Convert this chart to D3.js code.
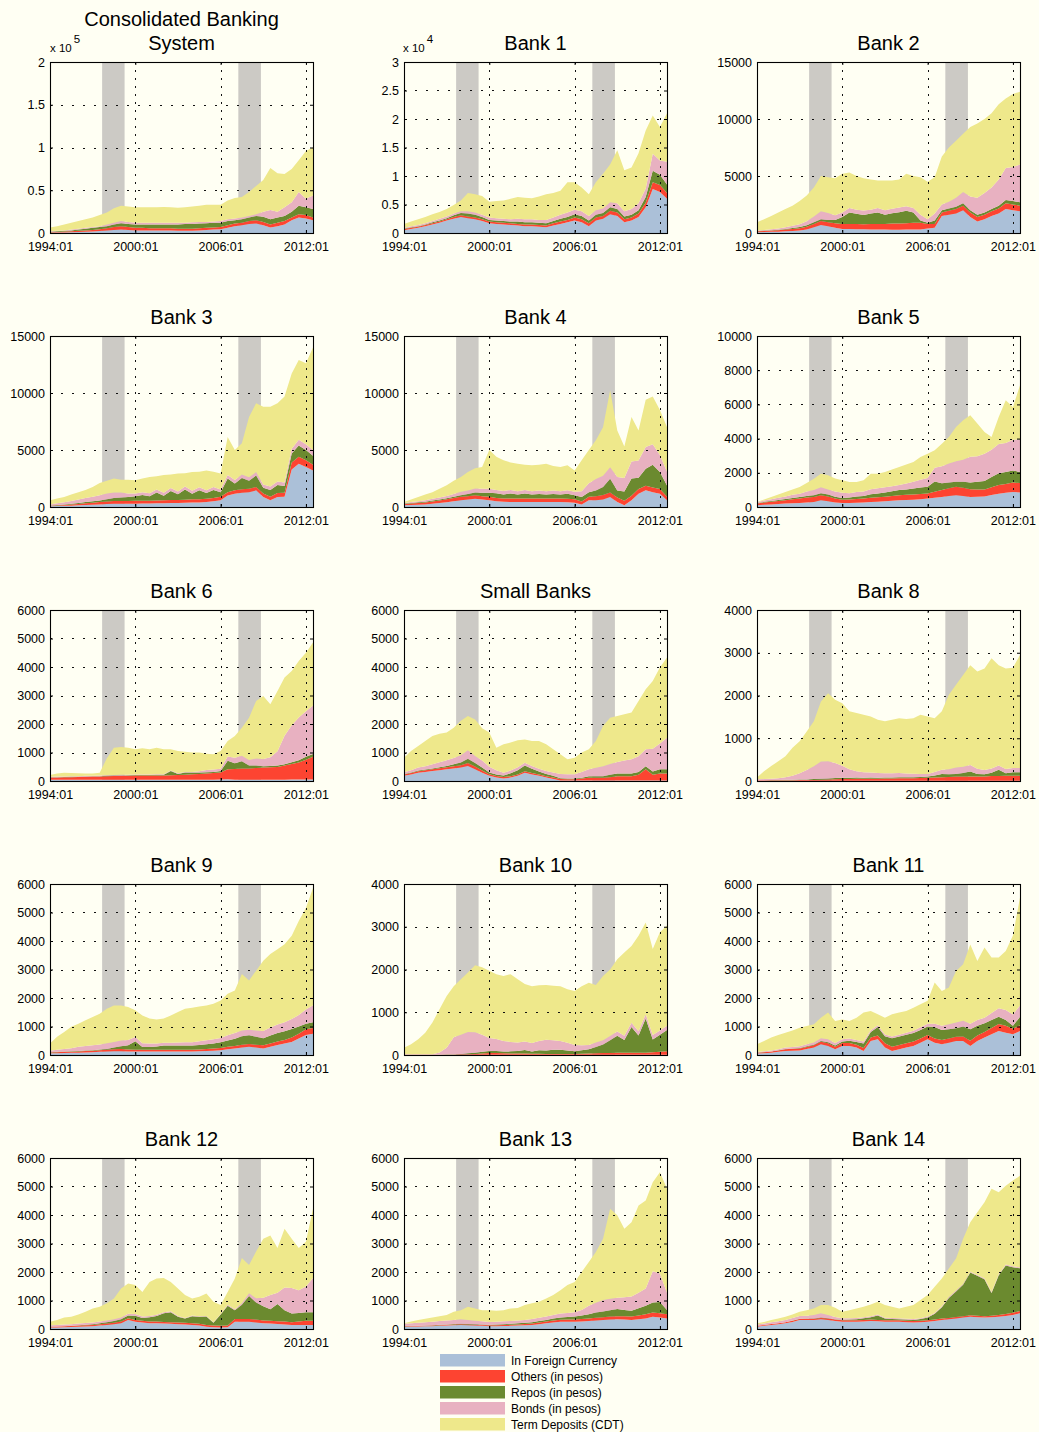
<!DOCTYPE html>
<html>
<head>
<meta charset="utf-8">
<script src="https://cdn.jsdelivr.net/npm/d3@7"></script>
<style>
body { margin: 0; background: #fffff3; }
svg { display: block; font-family: "Liberation Sans", Arial, Helvetica, sans-serif; }
</style>
</head>
<body>
<div id="chart"></div>
<script>
// ---- data (semi-annual samples) ----
var dates = ["1994:01","1994:07","1995:01","1995:07","1996:01","1996:07","1997:01","1997:07","1998:01","1998:07",
  "1999:01","1999:07","2000:01","2000:07","2001:01","2001:07","2002:01","2002:07","2003:01","2003:07",
  "2004:01","2004:07","2005:01","2005:07","2006:01","2006:07","2007:01","2007:07","2008:01","2008:07",
  "2009:01","2009:07","2010:01","2010:07","2011:01","2011:07","2012:01","2012:07"];

var panelTitles = [["Consolidated Banking", "System"], ["Bank 1"], ["Bank 2"], ["Bank 3"], ["Bank 4"], ["Bank 5"],
  ["Bank 6"], ["Small Banks"], ["Bank 8"], ["Bank 9"], ["Bank 10"], ["Bank 11"], ["Bank 12"], ["Bank 13"], ["Bank 14"]];

var yMax = [200000, 30000, 15000, 15000, 15000, 10000, 6000, 6000, 4000, 6000, 4000, 6000, 6000, 6000, 6000];
var yStep = [50000, 5000, 5000, 5000, 5000, 2000, 1000, 1000, 1000, 1000, 1000, 1000, 1000, 1000, 1000];
var yExponent = [5, 4, 0, 0, 0, 0, 0, 0, 0, 0, 0, 0, 0, 0, 0];

var xTickLabels = ["1994:01", "2000:01", "2006:01", "2012:01"];
var recessions = [["1997:09", "1999:04"], ["2007:04", "2008:11"]];

var seriesNames = ["In Foreign Currency", "Others (in pesos)", "Repos (in pesos)", "Bonds (in pesos)", "Term Deposits (CDT)"];
var seriesColors = ["#abc0d8", "#fd4431", "#6b8a2f", "#e8b1c1", "#eee88b"];

var foreignCurrency = [
  [300,500,700,900,1200,1500,1800,2300,3000,3500,4000,3500,3000,3000,2800,2800,2800,2800,2600,2600,2600,3000,3500,4000,4500,6000,8000,9000,10500,11000,9000,6500,8000,10000,15000,18000,17000,15000],
  [500,700,900,1200,1500,1800,2200,2500,2800,2600,2400,2100,1700,1600,1500,1400,1300,1200,1200,1100,1000,1300,1600,1900,2200,1900,1200,2200,2500,3300,3000,1900,2200,2800,4500,7700,7200,6000],
  [60,80,100,120,150,180,220,300,500,700,600,450,350,350,330,320,300,300,300,280,280,300,300,300,400,450,1500,1600,1700,2000,1400,1000,1200,1500,1700,2100,2000,1900],
  [60,80,100,120,150,180,200,230,260,280,280,280,290,300,300,320,330,340,350,370,390,400,440,500,590,1000,1170,1250,1300,1460,880,590,880,900,3300,3800,3500,3200],
  [150,180,200,230,290,350,420,500,590,650,730,650,590,500,450,440,440,440,440,440,440,440,440,420,380,230,590,600,650,880,440,150,590,1170,1460,1300,1170,590],
  [100,130,150,170,200,220,240,270,290,390,330,260,230,240,250,270,290,310,330,360,390,410,430,460,490,540,590,640,680,640,590,600,620,700,780,830,880,850],
  [40,40,40,40,40,40,40,40,40,40,40,40,40,40,40,40,40,40,40,40,40,40,40,40,50,60,40,40,40,40,40,40,40,40,50,50,50,50],
  [180,230,290,320,350,380,410,440,470,530,410,290,180,120,90,120,180,290,230,180,120,70,20,15,15,15,15,15,15,15,15,15,15,15,15,15,15,15],
  [5,5,5,5,5,5,5,5,5,5,5,5,5,5,5,5,5,5,5,5,5,5,5,5,5,5,5,5,5,5,5,5,5,5,5,5,5,5],
  [60,65,70,75,80,90,100,110,120,130,130,125,120,120,120,120,120,120,120,120,120,130,140,150,170,200,230,260,290,260,230,290,350,400,460,580,700,750],
  [5,5,5,5,5,5,5,5,5,5,5,5,5,5,5,5,5,5,5,5,5,5,5,5,5,5,5,5,5,5,5,5,5,5,5,5,5,5],
  [50,65,80,110,140,150,160,210,260,375,320,200,320,320,260,140,490,550,260,140,200,260,320,430,550,430,375,430,490,490,320,490,610,725,840,780,725,840],
  [50,55,60,70,80,90,100,120,140,170,200,315,255,230,200,200,190,180,170,160,140,120,80,60,50,60,255,255,255,230,200,190,175,160,140,140,140,140],
  [80,85,90,95,100,110,120,130,140,130,120,110,100,100,105,110,120,130,140,170,200,230,255,255,255,265,280,300,315,330,340,330,320,345,370,430,400,370],
  [80,110,140,170,200,250,315,315,315,340,315,280,255,255,255,265,280,270,255,255,255,240,230,240,255,285,315,340,370,400,430,415,400,415,430,460,490,550]
];

var othersPesos = [
  [700,800,1000,1100,1300,1500,1700,2200,2500,3500,4000,3500,3000,3000,2700,2700,2700,2700,2400,2400,2400,2500,2500,2500,2500,3000,3000,3000,3500,4000,4000,3500,4000,4000,3000,4000,4000,3000],
  [200,200,200,200,200,200,200,300,300,300,300,300,300,300,300,300,300,300,300,300,300,400,400,400,500,500,500,500,500,600,600,500,500,600,800,1200,1200,1000],
  [100,100,110,120,150,170,200,250,300,350,350,400,450,450,450,450,500,500,500,550,550,550,600,600,400,350,300,350,400,400,400,400,400,400,450,500,500,500],
  [50,60,80,100,120,150,180,200,230,250,250,250,250,250,250,260,260,270,270,270,280,280,280,300,300,300,300,300,300,300,300,300,350,350,600,600,600,500],
  [100,120,150,170,200,220,250,280,300,300,300,300,300,300,300,300,300,300,300,300,300,300,300,300,300,250,300,350,400,400,400,400,400,400,400,400,400,300],
  [100,130,150,180,200,230,250,280,300,300,280,240,200,200,220,230,250,260,270,280,300,300,300,300,300,350,400,450,500,480,450,420,400,450,500,520,550,550],
  [80,85,90,95,100,110,115,120,130,135,140,145,150,150,150,150,150,160,170,180,200,210,220,240,250,350,380,400,400,420,430,440,450,500,550,600,700,800],
  [50,50,55,55,60,65,70,75,80,100,100,80,60,55,50,50,50,50,50,50,50,50,50,50,50,70,100,100,100,120,150,150,150,200,400,200,250,250],
  [10,10,12,12,14,15,16,18,20,25,30,35,40,40,45,45,50,50,55,55,60,60,60,65,70,75,80,90,100,100,100,100,100,110,110,115,120,120],
  [30,35,40,42,45,48,50,55,60,70,80,70,60,60,60,60,60,60,60,60,60,65,70,75,80,90,90,100,100,100,110,115,120,130,150,170,200,200],
  [5,5,5,5,5,5,8,8,10,15,20,30,40,40,35,30,30,30,25,25,20,20,20,20,20,25,30,35,40,40,45,45,50,50,50,60,70,80],
  [30,35,40,45,60,65,70,75,80,90,90,90,100,100,100,110,120,130,150,150,150,150,150,150,150,150,150,150,150,160,180,190,200,220,250,250,200,200],
  [30,30,35,35,40,40,40,45,50,50,60,60,60,60,60,60,60,60,60,60,60,60,60,60,60,60,100,100,100,100,100,100,100,100,100,120,150,150],
  [20,20,22,22,24,25,25,27,28,28,30,30,30,32,35,38,40,45,50,55,60,65,70,75,80,85,90,95,100,110,110,115,120,130,150,150,150,150],
  [30,30,35,35,40,40,40,45,45,50,50,50,50,50,50,50,50,50,50,50,50,50,50,50,50,50,50,50,50,50,50,50,50,50,60,70,80,80]
];

var reposPesos = [
  [500,700,800,1000,1500,2000,2500,2500,2500,3000,3500,3500,4000,4000,4500,4500,4500,4500,5000,5500,5500,5500,5500,5500,5000,5000,4000,4000,4000,5000,6000,6000,6000,6000,7000,10000,9000,10000],
  [100,100,100,100,200,200,200,300,400,500,500,400,300,300,300,300,400,400,400,400,400,400,500,500,600,600,500,500,500,600,600,500,500,600,1000,2000,1800,1500],
  [20,30,40,50,60,80,100,120,150,150,200,300,600,1000,900,800,900,1000,800,900,1000,1100,900,200,100,300,200,200,200,200,200,200,200,200,250,300,300,300],
  [20,30,40,60,80,100,120,150,200,250,300,350,400,500,400,700,400,800,500,900,500,800,500,700,400,1200,600,1000,700,1000,500,600,700,600,800,1000,900,800],
  [50,50,60,70,80,90,100,120,150,200,250,300,350,400,350,450,350,450,350,400,350,400,350,450,350,400,400,500,700,1200,600,800,1500,1000,1500,2000,1500,1000],
  [30,40,50,60,70,80,90,100,100,120,120,100,100,120,150,150,200,220,250,280,300,320,350,380,400,600,400,350,300,350,400,450,500,600,700,700,700,650],
  [10,10,10,10,10,10,10,10,10,15,15,15,20,20,20,25,30,150,40,80,60,50,50,40,50,300,200,250,100,80,50,50,50,50,60,80,100,100],
  [20,20,25,25,30,40,50,70,100,150,120,100,60,50,50,100,150,200,150,100,80,60,30,20,20,30,50,50,50,80,100,100,100,100,100,120,150,150],
  [5,5,5,5,8,10,12,15,20,25,25,30,30,30,30,25,25,20,20,20,20,20,25,25,30,50,80,60,60,80,120,60,50,80,150,60,80,80],
  [10,10,12,14,16,18,20,25,30,60,100,150,300,100,100,120,150,150,150,150,150,160,170,180,200,220,250,300,300,280,250,280,300,300,300,250,200,200],
  [0,0,0,0,0,0,5,5,10,20,30,40,50,50,40,50,60,80,50,80,80,100,100,80,60,80,100,150,200,300,400,300,600,400,800,300,400,500],
  [5,5,5,8,10,12,15,18,20,30,40,40,50,80,100,150,200,300,250,300,300,300,300,300,300,400,350,320,300,350,400,350,300,280,250,200,100,300],
  [5,5,5,10,10,20,30,40,50,60,80,100,150,100,150,200,300,350,200,150,250,250,300,100,400,700,300,500,800,600,500,400,600,400,300,300,300,300],
  [5,5,5,8,10,12,15,18,20,20,20,20,20,25,30,35,40,45,50,60,60,70,80,90,100,120,150,180,200,220,250,220,200,250,300,350,400,150],
  [0,0,0,0,0,5,5,5,10,10,10,15,20,30,40,60,80,150,60,50,40,40,40,60,100,200,400,700,900,1100,1500,1400,1300,800,1400,1700,1600,1500]
];

var bondsPesos = [
  [500,500,500,1000,1000,1000,1000,1000,2000,2000,2500,2500,2000,2000,2000,2000,2000,2000,2000,1500,2000,2000,1500,1500,2000,2000,2000,2000,2000,2000,6000,11000,7000,10000,11000,16000,10000,16000],
  [100,200,200,200,200,300,300,300,300,400,400,400,400,400,400,400,500,500,500,500,600,600,700,800,800,800,800,800,800,900,1000,900,1000,1200,1500,3000,2500,4000],
  [50,60,80,100,150,200,250,350,500,700,600,400,400,400,350,400,350,400,400,400,400,400,400,500,300,600,500,600,800,1000,1200,1500,1700,1900,2300,2800,3000,3300],
  [100,150,200,250,300,350,400,450,500,500,450,300,250,250,250,250,250,250,250,250,250,250,250,250,250,300,300,300,300,300,300,300,300,300,400,500,500,500],
  [50,80,100,120,150,180,200,250,300,300,350,350,350,300,300,300,300,300,300,300,300,300,300,300,300,500,800,1000,1000,1000,1200,1200,1500,1500,1900,1800,1500,1200],
  [50,80,100,130,150,180,200,250,300,350,300,300,300,250,250,250,300,300,300,300,300,350,400,450,500,800,1000,1100,1200,1300,1500,1500,1600,1600,1700,1700,1800,1900],
  [20,20,20,20,20,20,20,20,20,20,20,20,20,20,20,20,20,20,20,20,20,40,80,80,80,150,200,200,200,250,250,300,500,1000,1300,1500,1600,1700],
  [60,80,100,120,150,170,200,220,250,300,250,250,200,150,100,100,100,100,100,100,100,120,150,150,150,200,250,300,350,380,400,450,500,550,600,800,900,1100],
  [20,25,30,40,60,90,150,220,300,400,400,350,280,200,150,130,120,110,100,100,100,90,80,70,60,80,100,120,150,150,150,120,100,100,100,100,100,100],
  [50,70,90,110,150,160,170,180,200,200,200,180,150,130,120,100,100,100,110,120,120,130,140,150,150,180,200,200,200,220,250,280,300,320,350,400,500,600],
  [5,5,5,10,10,50,150,400,450,500,480,400,300,280,250,220,200,200,200,220,250,220,200,180,150,120,100,100,100,100,100,100,100,100,100,100,100,100],
  [20,25,30,40,50,55,60,70,80,90,100,90,80,80,70,70,60,60,60,60,60,70,80,90,100,120,150,180,200,200,200,200,200,250,300,350,400,400],
  [50,50,55,55,60,60,60,60,60,60,60,60,60,50,50,40,40,30,30,20,20,20,20,20,20,30,40,50,100,150,300,500,400,800,900,800,900,1200],
  [80,90,100,110,120,130,140,145,150,140,120,110,100,100,100,100,100,100,110,110,120,130,140,145,150,200,300,350,400,400,400,450,500,550,600,1100,1000,600],
  [50,55,60,70,80,90,100,100,120,150,120,80,50,40,40,40,40,40,30,30,30,30,30,30,30,30,30,30,30,30,30,30,30,30,30,30,30,30]
];

var termDeposits = [
  [4500,5500,7000,8000,9000,10000,11000,13000,14000,17000,18000,18000,18000,18000,18000,18000,18500,18000,17500,18000,18500,19000,20000,19500,19000,22000,24000,24000,28000,33000,37000,49000,45000,39000,39000,37000,56000,56000],
  [700,800,1000,1100,1200,1200,1300,1500,1900,3200,3200,3300,2800,3000,3200,3600,3800,3800,3700,4100,4500,4300,4200,5300,4800,4200,3800,4900,6100,6600,9300,7200,7300,8800,10200,6700,5900,8500],
  [710,930,1170,1410,1590,1770,2030,2280,2550,3100,3150,3250,3400,3100,2970,2830,2650,2400,2600,2470,2470,2850,2800,3300,3300,3200,4200,4750,5000,5100,6100,6500,6500,6500,6600,6100,6400,6400],
  [360,420,460,570,650,720,860,1070,1110,1220,1120,1220,1160,1200,1440,1170,1560,1190,1560,1160,1660,1370,1730,1350,1390,3350,2630,2750,5300,6040,6820,7010,6870,7550,6600,7000,7100,9000],
  [90,230,370,510,580,760,930,1150,1300,1630,1770,1900,3410,2900,2700,2410,2410,2210,2270,2260,2410,2160,2110,2190,1870,2720,2910,3410,4250,6770,4060,2750,3910,2630,4140,4200,3930,3910],
  [10,60,140,190,260,320,390,500,660,790,820,760,730,650,590,660,910,860,900,980,1050,1100,1150,1340,1430,1030,1310,1560,2000,2300,2430,1910,1270,750,1590,2490,1920,3170],
  [60,105,130,115,100,85,75,100,600,960,975,950,880,920,880,935,870,740,780,710,680,660,570,540,620,540,760,980,1480,2020,2210,1860,2120,2040,1900,1980,2050,2210],
  [510,670,760,880,990,1005,970,1065,1210,1200,1280,1130,1200,795,1000,980,950,820,870,970,940,810,690,525,585,685,695,935,1415,1625,1615,1625,1635,1945,2105,2375,2665,2815],
  [40,185,298,398,493,655,747,902,1055,1405,1590,1480,1465,1355,1360,1345,1310,1245,1220,1250,1285,1275,1300,1385,1345,1260,1365,1740,1935,2145,2335,2275,2375,2575,2345,2350,2345,2645],
  [255,460,598,749,809,904,990,1080,1210,1280,1230,1155,940,980,880,850,850,960,1070,1170,1210,1215,1220,1245,1310,1460,1490,1980,1720,2100,2470,2575,2640,2740,2920,3300,3560,4110],
  [155,235,355,500,740,1010,1212,1192,1295,1390,1565,1575,1575,1515,1520,1585,1475,1345,1330,1300,1285,1275,1285,1255,1265,1380,1455,1350,1505,1555,1690,1950,1795,2235,2145,2015,2295,2345],
  [270,360,455,497,520,578,655,647,640,725,940,770,700,610,780,1020,670,390,590,780,780,760,810,810,800,1440,1225,1290,1810,1980,2780,2070,2460,1945,1780,2070,2765,3790],
  [120,175,245,260,320,395,490,515,600,730,1020,1065,1015,860,1190,1270,1200,1030,960,800,600,680,790,720,310,450,1075,1585,995,1640,2070,2090,1565,2060,1730,1480,1570,2430],
  [15,60,98,125,146,168,190,285,322,462,430,390,410,383,390,437,440,520,550,565,630,695,815,975,1065,1330,1530,1775,2155,3160,2890,2405,2610,3055,3090,3120,3550,3650],
  [40,55,80,95,110,125,145,195,230,290,345,325,230,285,335,365,410,450,445,395,345,420,490,640,755,915,975,1000,1120,1590,1740,2205,2670,3625,2880,2770,3010,3220]
];

// ---- layout ----
var WIDTH = 1039, HEIGHT = 1432;
var COL_LEFT = [50, 404, 757];
var ROW_TOP = [62, 336, 610, 884, 1158];
var PLOT_W = 263, PLOT_H = 171;
var KEYS = ["s0", "s1", "s2", "s3", "s4"];
var allSeries = [foreignCurrency, othersPesos, reposPesos, bondsPesos, termDeposits];

var parse = d3.timeParse("%Y:%m");
var fmtDate = d3.timeFormat("%Y:%m");

var svg = d3.select("#chart").append("svg")
    .attr("width", WIDTH)
    .attr("height", HEIGHT);
svg.append("rect")
    .attr("width", WIDTH)
    .attr("height", HEIGHT)
    .attr("fill", "#fffff3");

var x = d3.scaleTime()
    .domain([parse("1994:01"), parse("2012:07")])
    .range([0, PLOT_W]);

function draw_panel(p) {
    var g = svg.append("g")
        .attr("transform", "translate(" + COL_LEFT[p % 3] + "," + ROW_TOP[Math.floor(p / 3)] + ")");
    var y = d3.scaleLinear().domain([0, yMax[p]]).range([PLOT_H, 0]);
    var yTicks = d3.range(0, yMax[p] + 1, yStep[p]);
    var xTicks = xTickLabels.map(parse);

    // recession shading
    g.selectAll(".band")
        .data(recessions)
        .join("rect")
        .attr("class", "band")
        .attr("x", function(d) { return x(parse(d[0])); })
        .attr("width", function(d) { return x(parse(d[1])) - x(parse(d[0])); })
        .attr("y", 0)
        .attr("height", PLOT_H)
        .attr("fill", "#cccac5");

    // stacked areas
    var rows = dates.map(function(d, i) {
        var row = { date: parse(d) };
        KEYS.forEach(function(k, j) { row[k] = allSeries[j][p][i]; });
        return row;
    });
    var layers = d3.stack().keys(KEYS)(rows);
    var area = d3.area()
        .x(function(d) { return x(d.data.date); })
        .y0(function(d) { return y(d[0]); })
        .y1(function(d) { return y(d[1]); });
    g.selectAll(".layer")
        .data(layers)
        .join("path")
        .attr("class", "layer")
        .attr("fill", function(d, i) { return seriesColors[i]; })
        .attr("d", area);

    // dotted grid
    g.selectAll(".vgrid")
        .data(xTicks.slice(1))
        .join("line")
        .attr("x1", function(d) { return Math.round(x(d)) + 0.5; })
        .attr("x2", function(d) { return Math.round(x(d)) + 0.5; })
        .attr("y1", 0)
        .attr("y2", PLOT_H)
        .attr("stroke", "#111")
        .attr("stroke-dasharray", "2,6");
    g.selectAll(".hgrid")
        .data(yTicks.slice(1, -1))
        .join("line")
        .attr("x1", 0)
        .attr("x2", PLOT_W)
        .attr("y1", function(d) { return Math.round(y(d)) + 0.5; })
        .attr("y2", function(d) { return Math.round(y(d)) + 0.5; })
        .attr("stroke", "#111")
        .attr("stroke-dasharray", "2,9");

    // axes
    var fmtY = function(v) { return d3.format("~g")(v / Math.pow(10, yExponent[p])); };
    var ax_b = g.append("g")
        .attr("transform", "translate(0," + PLOT_H + ")")
        .call(d3.axisBottom(x).tickValues(xTicks).tickFormat(fmtDate)
            .tickSizeInner(-3).tickSizeOuter(0).tickPadding(9));
    var ax_l = g.append("g")
        .call(d3.axisLeft(y).tickValues(yTicks).tickFormat(fmtY)
            .tickSizeInner(-3).tickSizeOuter(0).tickPadding(5));
    var ax_t = g.append("g")
        .call(d3.axisTop(x).tickValues(xTicks).tickFormat("").tickSizeInner(-3).tickSizeOuter(0));
    var ax_r = g.append("g")
        .attr("transform", "translate(" + PLOT_W + ",0)")
        .call(d3.axisRight(y).tickValues(yTicks).tickFormat("").tickSizeInner(-3).tickSizeOuter(0));
    [ax_b, ax_l, ax_t, ax_r].forEach(function(a) {
        a.select(".domain").remove();
        a.selectAll("text").attr("fill", "#000").style("font-size", "12.5px");
        a.selectAll("line").attr("stroke", "#000");
    });

    g.append("rect")
        .attr("x", 0.5)
        .attr("y", 0.5)
        .attr("width", PLOT_W)
        .attr("height", PLOT_H)
        .attr("fill", "none")
        .attr("stroke", "#000")
        .attr("stroke-width", 1.1);

    // exponent label
    if (yExponent[p]) {
        var ex = g.append("text")
            .attr("x", p === 0 ? 0 : -1)
            .attr("y", -10)
            .style("font-size", "11.5px");
        ex.append("tspan").text("x 10");
        ex.append("tspan").attr("dx", 2).attr("dy", -9).text(yExponent[p]);
    }

    // title
    var lines = panelTitles[p];
    g.selectAll(".title")
        .data(lines)
        .join("text")
        .attr("class", "title")
        .attr("x", PLOT_W / 2)
        .attr("y", function(d, i) { return -12 - (lines.length - 1 - i) * 24; })
        .attr("text-anchor", "middle")
        .style("font-size", "20px")
        .text(function(d) { return d; });
}

for (var p = 0; p < panelTitles.length; p++) {
    draw_panel(p);
}

// legend
var legend = svg.append("g").attr("transform", "translate(440,1354)");
var items = legend.selectAll(".item")
    .data(seriesNames)
    .join("g")
    .attr("transform", function(d, i) { return "translate(0," + (i * 16) + ")"; });
items.append("rect")
    .attr("width", 65)
    .attr("height", 12.5)
    .attr("fill", function(d, i) { return seriesColors[i]; });
items.append("text")
    .attr("x", 71)
    .attr("y", 6.3)
    .attr("dy", "0.35em")
    .style("font-size", "12px")
    .text(function(d) { return d; });
</script>
</body>
</html>
